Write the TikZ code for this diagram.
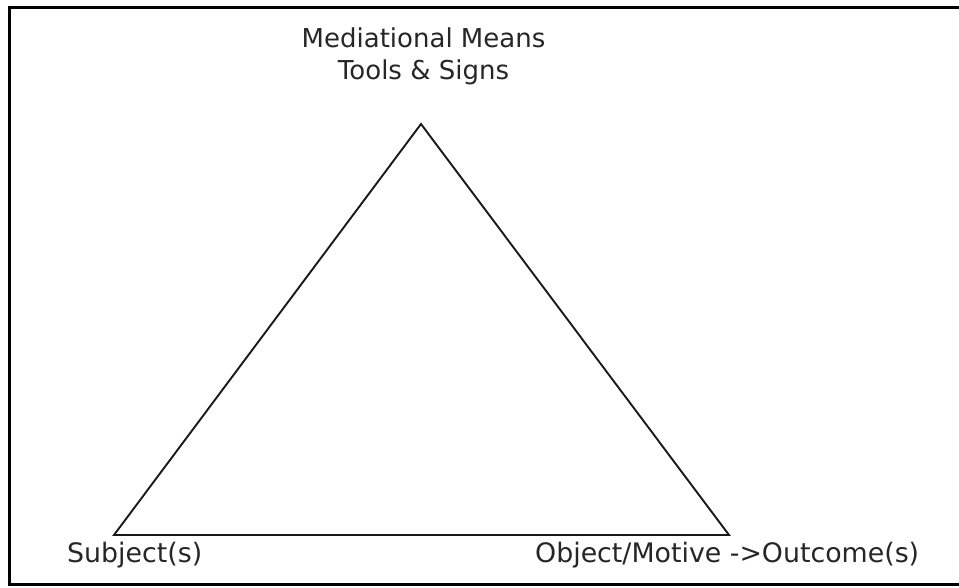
\documentclass[tikz,border=0pt]{standalone}
\usepackage{fontspec}
\setmainfont{DejaVu Sans}
\usetikzlibrary{positioning}

\begin{document}
\begin{tikzpicture}[
    x=1pt, y=-1pt,
    frame/.style={draw=black, line width=3pt},
    edge/.style={draw=black!90, line width=1.9pt, line join=miter},
    label/.style={inner sep=0pt, text=black!85, font=\fontsize{26}{32}\selectfont},
    cornerlabel/.style={label, font=\fontsize{26.8}{32}\selectfont}
]
    \useasboundingbox (0,0) rectangle (959,588);
    \draw[frame] (9.5,7.5) rectangle (970,584.5);

    % corners of the triangle
    \coordinate (means) at (421,124);
    \coordinate (subject) at (114,535);
    \coordinate (object) at (729,535);

    \draw[edge] (means) -- (subject) -- (object) -- cycle;

    \node[label, anchor=base] (meanslbl) at (423.5,48) {Mediational Means};
    \node[label, anchor=base] (toolslbl) at (423.5,80) {Tools \& Signs};
    \node[cornerlabel, anchor=base west] (subjlbl) at (67,562) {Subject(s)};
    \node[cornerlabel, anchor=base west] (objlbl) at (535,562) {Object/Motive ->Outcome(s)};
\end{tikzpicture}
\end{document}
